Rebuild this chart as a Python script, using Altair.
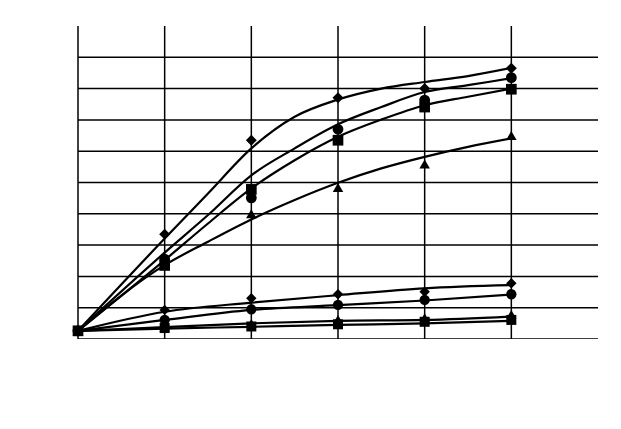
import altair as alt
import pandas as pd

# marker data (x = 0..5)
x_pts = [0, 1, 2, 3, 4, 5]
up_diamond = [0.26, 3.35, 6.35, 7.71, 8.00, 8.65]
up_circle = [0.26, 2.55, 4.51, 6.70, 7.63, 8.35]
up_square = [0.26, 2.35, 4.78, 6.35, 7.41, 7.98]
up_triangle = [0.26, 2.36, 4.00, 4.84, 5.59, 6.50]
lo_diamond = [0.26, 0.93, 1.30, 1.43, 1.51, 1.78]
lo_circle = [0.26, 0.61, 0.95, 1.09, 1.25, 1.43]
lo_triangle = [0.26, 0.38, 0.50, 0.63, 0.68, 0.79]
lo_square = [0.26, 0.35, 0.40, 0.47, 0.55, 0.61]

# trend curves
x_curve_up = [0, 1, 1.5, 2, 2.5, 3, 3.5, 4, 4.5, 5]
c_up_diamond = [0.26, 3.21, 4.65, 6.09, 7.10, 7.65, 8.00, 8.21, 8.40, 8.66]
c_up_circle = [0.26, 2.76, 3.96, 5.23, 6.09, 6.86, 7.41, 7.89, 8.11, 8.33]
c_up_square = [0.26, 2.52, 3.69, 4.81, 5.71, 6.46, 7.01, 7.47, 7.74, 8.00]
c_up_triangle = [0.26, 2.36, 3.11, 3.82, 4.44, 4.99, 5.45, 5.82, 6.14, 6.41]
x_curve_lo = [0, 1, 2, 3, 4, 5]
c_lo_diamond = [0.26, 0.87, 1.16, 1.40, 1.62, 1.72]
c_lo_circle = [0.26, 0.61, 0.93, 1.08, 1.23, 1.42]
c_lo_triangle = [0.26, 0.38, 0.50, 0.58, 0.61, 0.72]
c_lo_square = [0.26, 0.33, 0.39, 0.45, 0.50, 0.58]

h_grid = [1, 2, 3, 4, 5, 6, 7, 8, 9]
v_grid = [1, 2, 3, 4, 5]

series_names = ["ud", "uc", "us", "ut", "ld", "lc", "lt", "ls"]
marker_vals = [up_diamond, up_circle, up_square, up_triangle,
               lo_diamond, lo_circle, lo_triangle, lo_square]
curve_vals = [c_up_diamond, c_up_circle, c_up_square, c_up_triangle,
              c_lo_diamond, c_lo_circle, c_lo_triangle, c_lo_square]
curve_xs = [x_curve_up] * 4 + [x_curve_lo] * 4
shapes = ["diamond", "circle", "square", "triangle-up",
          "diamond", "circle", "triangle-up", "square"]
sizes = [120, 100, 95, 125, 135, 45, 125, 85]

pts = pd.DataFrame([
    {"s": s, "x": x, "y": y}
    for s, vals in zip(series_names, marker_vals)
    for x, y in zip(x_pts, vals)
])
curves = pd.DataFrame([
    {"s": s, "x": x, "y": y}
    for s, xs, vals in zip(series_names, curve_xs, curve_vals)
    for x, y in zip(xs, vals)
])

xs = alt.Scale(domain=[0, 6], nice=False, zero=False)
ys = alt.Scale(domain=[0, 10], nice=False, zero=False)

hdf = pd.DataFrame({"y": h_grid, "x": 0, "x2": 6})
vdf = pd.DataFrame({"x": v_grid, "y": 0, "y2": 10})

hlines = alt.Chart(hdf).mark_rule(color="black", strokeWidth=1.5).encode(
    x=alt.X("x:Q", scale=xs, axis=None), x2="x2:Q",
    y=alt.Y("y:Q", scale=ys, axis=None))
vlines = alt.Chart(vdf).mark_rule(color="black", strokeWidth=1.5).encode(
    x=alt.X("x:Q", scale=xs, axis=None),
    y=alt.Y("y:Q", scale=ys, axis=None), y2="y2:Q")
left = alt.Chart(pd.DataFrame({"x": [0], "y": [-0.16], "y2": [10]})).mark_rule(
    color="black", strokeWidth=1.5).encode(
    x=alt.X("x:Q", scale=xs, axis=None),
    y=alt.Y("y:Q", scale=ys, axis=None), y2="y2:Q")
bottom = alt.Chart(pd.DataFrame({"x": [0], "x2": [6], "y": [0]})).mark_rule(
    color="black", strokeWidth=1.5).encode(
    x=alt.X("x:Q", scale=xs, axis=None), x2="x2:Q",
    y=alt.Y("y:Q", scale=ys, axis=None))

lines = alt.Chart(curves).mark_line(color="black", strokeWidth=2.2,
                                    interpolate="monotone").encode(
    x=alt.X("x:Q", scale=xs, axis=None),
    y=alt.Y("y:Q", scale=ys, axis=None),
    detail="s:N")

points = alt.Chart(pts).mark_point(filled=True, color="black", opacity=1).encode(
    x=alt.X("x:Q", scale=xs, axis=None),
    y=alt.Y("y:Q", scale=ys, axis=None),
    shape=alt.Shape("s:N", scale=alt.Scale(domain=series_names, range=shapes), legend=None),
    size=alt.Size("s:N", scale=alt.Scale(domain=series_names, range=sizes), legend=None))

chart = alt.layer(hlines, vlines, left, bottom, lines, points).properties(
    width=520, height=313,
    autosize=alt.AutoSizeParams(type="none"),
    padding={"left": 70, "top": 18, "right": 0, "bottom": 0},
    background="white",
).configure_view(stroke=None)

chart.save("out.html", embed_options={"renderer": "svg", "actions": False})
